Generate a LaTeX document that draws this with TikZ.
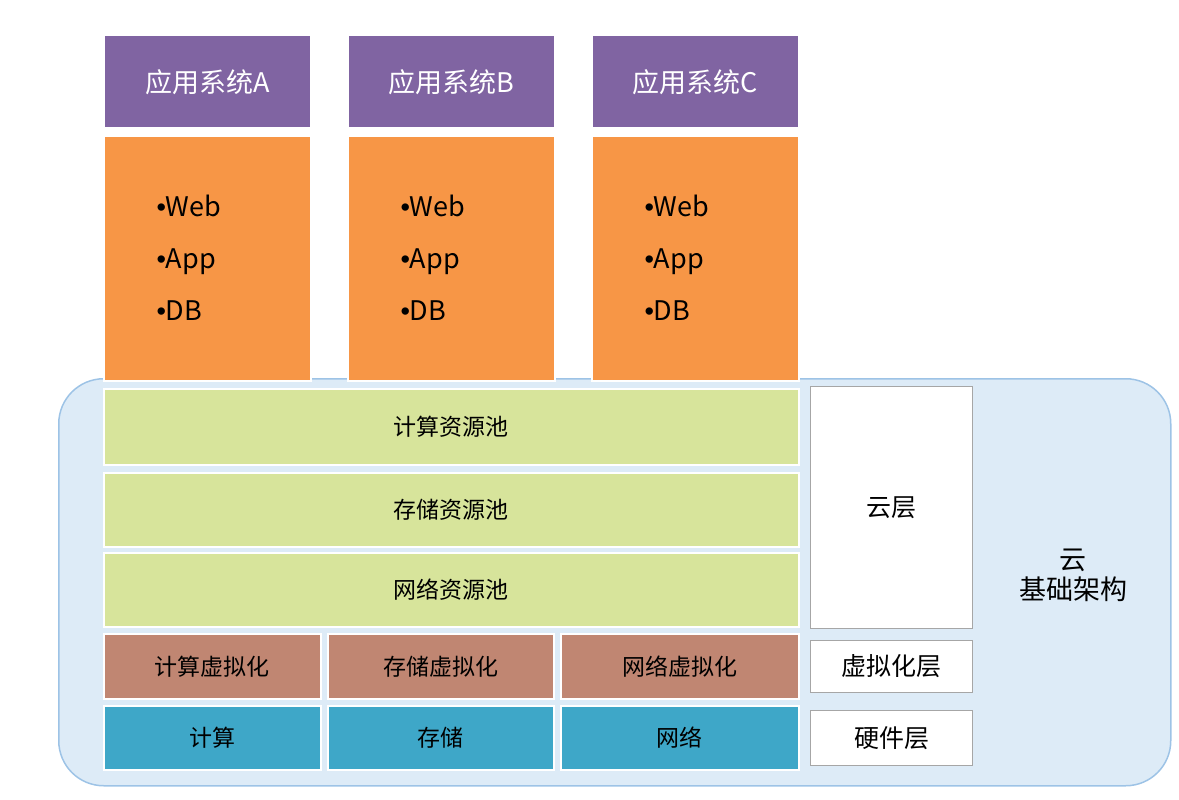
\documentclass[tikz,border=0pt]{standalone}
\usepackage{fontspec}
\setmainfont{Noto Sans CJK SC}
\newfontfamily\bulf{Liberation Sans}
\newcommand{\bul}{{\bulf •}}
\begin{document}
\begin{tikzpicture}[x=1pt,y=-1pt,
 box/.style={draw=white,line width=1.5pt,inner sep=0pt,anchor=north west},
 purp/.style={box,fill=purpleC,text=white,font=\fontsize{27}{30}\selectfont},
 orng/.style={box,fill=orangeC},
 grn/.style={box,fill=greenC,font=\fontsize{23}{26}\selectfont},
 brn/.style={box,fill=brownC,font=\fontsize{23}{26}\selectfont},
 teal/.style={box,fill=tealC,font=\fontsize{23}{26}\selectfont},
 wht/.style={draw=gray!70,line width=1pt,fill=white,inner sep=0pt,anchor=north west,font=\fontsize{25}{28}\selectfont}]
\definecolor{purpleC}{HTML}{8064A2}
\definecolor{orangeC}{HTML}{F79646}
\definecolor{greenC}{HTML}{D7E49B}
\definecolor{brownC}{HTML}{C08672}
\definecolor{tealC}{HTML}{3EA7C8}
\definecolor{bgC}{HTML}{DDEBF7}
\definecolor{bgB}{HTML}{9DC3E6}
\path[use as bounding box] (0,0) rectangle (1179,800);
\node[draw=bgB,line width=1.5pt,fill=bgC,rounded corners=45pt,minimum width=1112pt,minimum height=407pt,anchor=north west] (cloud) at (58,378) {};
\foreach \n/\x/\l in {a/103/A,b/347/B,c/591/C}{
 \node[purp,minimum width=207pt,minimum height=92pt] (p\n) at (\x,35) {应用系统\l};
 \node[orng,minimum width=207pt,minimum height=245pt] (o\n) at (\x,135) {};
 \node[font=\fontsize{27}{52}\selectfont,align=left,anchor=west] (t\n) at (\x+50,258) {\bul Web\\\bul App\\\bul DB};
}
\node[grn,minimum width=695pt,minimum height=76pt] (g1) at (103,388) {计算资源池};
\node[grn,minimum width=695pt,minimum height=74pt] (g2) at (103,472) {存储资源池};
\node[grn,minimum width=695pt,minimum height=74pt] (g3) at (103,552) {网络资源池};
\node[brn,minimum width=217pt,minimum height=65pt] (b1) at (103,633) {计算虚拟化};
\node[brn,minimum width=226pt,minimum height=65pt] (b2) at (327,633) {存储虚拟化};
\node[brn,minimum width=238pt,minimum height=65pt] (b3) at (560,633) {网络虚拟化};
\node[teal,minimum width=217pt,minimum height=64pt] (h1) at (103,705) {计算};
\node[teal,minimum width=226pt,minimum height=64pt] (h2) at (327,705) {存储};
\node[teal,minimum width=238pt,minimum height=64pt] (h3) at (560,705) {网络};
\node[wht,minimum width=162pt,minimum height=242pt] (w1) at (810,386) {云层};
\node[wht,minimum width=162pt,minimum height=52pt] (w2) at (810,640) {虚拟化层};
\node[wht,minimum width=162pt,minimum height=55pt] (w3) at (810,710) {硬件层};
\node[font=\fontsize{27}{30}\selectfont,align=center] (lbl) at (1073,575) {云\\基础架构};
\end{tikzpicture}
\end{document}
